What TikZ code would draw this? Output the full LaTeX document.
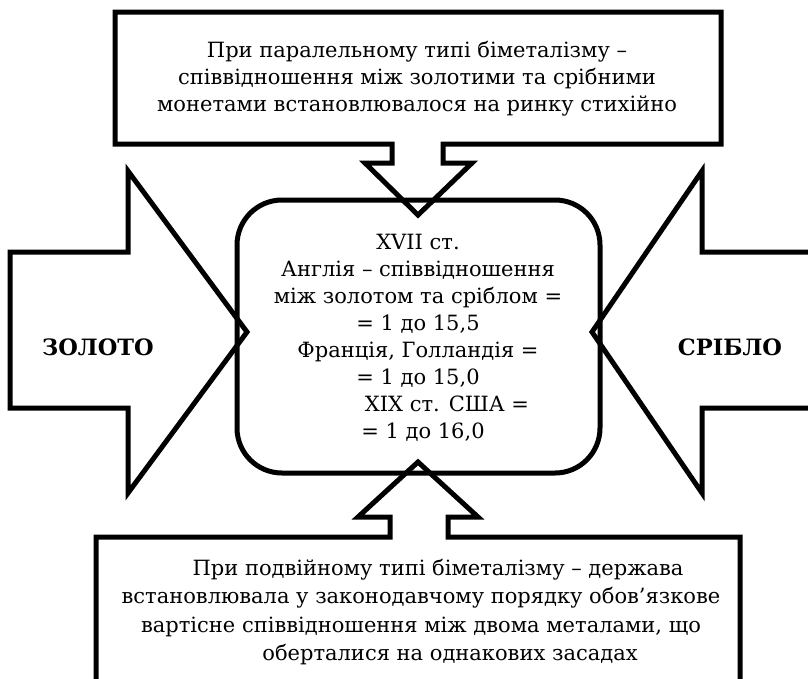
\documentclass[tikz,border=0pt]{standalone}
\usepackage{fontspec}
\setmainfont{DejaVu Serif}
\tikzset{
  shape outline/.style={draw=black, line width=5pt, line join=miter},
  txt/.style={font=\fontsize{21}{27}\selectfont, align=center, inner sep=0pt},
  btxt/.style={font=\fontsize{21}{28.5}\selectfont, align=center, inner sep=0pt},
  lbl/.style={font=\fontsize{22.5}{26}\selectfont\bfseries, inner sep=0pt}
}
\begin{document}
\begin{tikzpicture}[x=1pt,y=-1pt]
\useasboundingbox (0,0) rectangle (808,678);
\clip (0,0) rectangle (808,678);
% left arrow (gold)
\draw[shape outline] (10,252) -- (128,252) -- (128,171) -- (247,332) -- (128,493) -- (128,408) -- (10,408) -- cycle;
% right arrow (silver)
\draw[shape outline] (830,252) -- (702,252) -- (702,171) -- (592,332) -- (702,493) -- (702,408) -- (830,408);
% centre box
\draw[shape outline, rounded corners=45pt] (237,200) rectangle (600,473);
% top callout
\draw[shape outline] (115,12) -- (721,12) -- (721,144) -- (443,144) -- (443,163) -- (472,163) -- (418,215) -- (365,163) -- (392,163) -- (392,144) -- (115,144) -- cycle;
% bottom callout
\draw[shape outline] (96,700) -- (96,537) -- (390,537) -- (390,517) -- (358,517) -- (418,462) -- (478,517) -- (448,517) -- (448,537) -- (740,537) -- (740,700);
% texts
\node[txt] (top) at (417,79) {При паралельному типі біметалізму –\\співвідношення між золотими та срібними\\монетами встановлювалося на ринку стихійно};
\node[txt] (centre) at (418,338) {XVII ст.\\Англія – співвідношення\\між золотом та сріблом =\\= 1 до 15,5\\Франція, Голландія =\\= 1 до 15,0\\\hspace*{58pt}XIX ст. США =\\\hspace*{10pt}= 1 до 16,0};
\node[btxt] (bottom) at (421,612) {\hspace*{34pt}При подвійному типі біметалізму – держава\\встановлювала у законодавчому порядку обов’язкове\\вартісне співвідношення між двома металами, що\\\hspace*{58pt}оберталися на однакових засадах};
\node[lbl] (gold) at (98,347) {ЗОЛОТО};
\node[lbl] (silver) at (730,347) {СРІБЛО};
\end{tikzpicture}
\end{document}
